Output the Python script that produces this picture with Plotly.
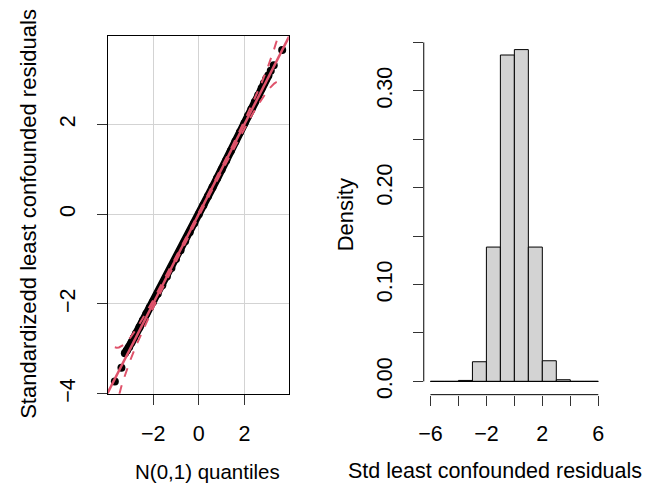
import plotly.graph_objects as go

W, H = 652, 493

# ---------------- data ----------------
# QQ plot: theoretical N(0,1) quantiles vs standardized residuals
qq_theoretical = [-3.68, -3.39, -3.24, -3.15, -3.05, -2.95, -2.85, -2.75, -2.60, -2.45, -2.30,
                  -2.15, -2.00, -1.80, -1.60, -1.40, -1.20, -1.00, -0.80, -0.60, -0.40, -0.20,
                  0.00, 0.20, 0.40, 0.60, 0.80, 1.00, 1.20, 1.40, 1.60, 1.80, 2.00, 2.15, 2.30,
                  2.45, 2.60, 2.75, 2.85, 2.95, 3.05, 3.15, 3.28, 3.65]
qq_sample = [-3.73, -3.42, -3.10, -3.04, -2.96, -2.86, -2.76, -2.66, -2.52, -2.37, -2.22,
             -2.08, -1.95, -1.77, -1.58, -1.39, -1.20, -1.00, -0.80, -0.60, -0.40, -0.20,
             0.00, 0.20, 0.40, 0.60, 0.80, 1.00, 1.20, 1.41, 1.62, 1.83, 2.03, 2.19, 2.34,
             2.50, 2.65, 2.81, 2.92, 3.02, 3.10, 3.20, 3.32, 3.66]

# reference line (intercept, slope)
qq_line_intercept = 0.01
qq_line_slope = 1.0

# pointwise confidence envelope (spans the range of the theoretical quantiles)
env_x = [-3.68, -3.6, -3.5, -3.4, -3.3, -3.2, -3.1, -3.0, -2.75, -2.5,
         -2.25, -2.0, -1.5, -1.0, -0.5, 0.0, 0.5, 1.0, 1.5, 2.0, 2.25, 2.5, 2.75, 3.0,
         3.1, 3.2, 3.3, 3.4, 3.5, 3.65]
env_upper = [-2.965, -2.975, -2.97, -2.948, -2.913, -2.867, -2.811,
             -2.749, -2.568, -2.364, -2.145, -1.916, -1.442, -0.954, -0.46, 0.038, 0.54,
             1.046, 1.558, 2.084, 2.355, 2.636, 2.932, 3.251, 3.389, 3.533, 3.687, 3.852,
             4.03, 4.33]
env_lower = [-4.395, -4.225, -4.03, -3.852, -3.687, -3.533, -3.389,
             -3.251, -2.932, -2.636, -2.355, -2.084, -1.558, -1.046, -0.54, -0.038, 0.46,
             0.954, 1.442, 1.916, 2.145, 2.364, 2.568, 2.749, 2.811, 2.867, 2.913, 2.948,
             2.97, 2.97]

# histogram of standardized residuals (density per unit-width bin)
hist_edges = [-6, -5, -4, -3, -2, -1, 0, 1, 2, 3, 4, 5, 6]
hist_density = [0.0, 0.0, 0.0010, 0.0203, 0.1387, 0.3370, 0.3426, 0.1387, 0.0213, 0.0017, 0.0, 0.0]

# tick labels
qq_xticks = [-2, 0, 2]
qq_xticktext = ["\u22122", "0", "2"]
qq_yticks = [-4, -2, 0, 2]
qq_yticktext = ["\u22124", "\u22122", "0", "2"]
h_xticks = [-6, -4, -2, 0, 2, 4, 6]
h_xticktext = ["\u22126", "", "\u22122", "", "2", "", "6"]
h_yticks = [0.0, 0.05, 0.10, 0.15, 0.20, 0.25, 0.30, 0.35]
h_yticktext = ["0.00", "", "0.10", "", "0.20", "", "0.30", ""]

# ---------------- styling / layout ----------------
FONT = "Liberation Sans, Arial, Helvetica, sans-serif"
FS = 21.5
RED = "#DF536B"

def px_x(p):
    return p / W

def px_y(p):
    return 1 - p / H

L_X = (103.3, 286.0)
L_Y = (37.0, 401.0)
R_X = (422.0, 604.6)
R_Y = (37.0, 402.0)
qq_range_x = [-4.0, 3.94]
qq_range_y = [-4.0, 3.967]
h_range_x = [-6.48, 6.48]
h_range_y = [-0.0137, 0.3563]

fig = go.Figure()

dense_lo, dense_hi = -3.25, 3.10
dx = [x for x in qq_theoretical if dense_lo <= x <= dense_hi]
dy = [y for x, y in zip(qq_theoretical, qq_sample) if dense_lo <= x <= dense_hi]

fig.add_trace(go.Scatter(x=dx, y=dy, mode="lines", line=dict(color="black", width=8),
                         xaxis="x", yaxis="y", hoverinfo="skip", showlegend=False))
fig.add_trace(go.Scatter(x=qq_theoretical, y=qq_sample, mode="markers",
                         marker=dict(color="black", size=8, line=dict(width=0)),
                         xaxis="x", yaxis="y", showlegend=False))
lx = [qq_range_x[0] - 1, qq_range_x[1] + 1]
fig.add_trace(go.Scatter(x=lx, y=[qq_line_intercept + qq_line_slope * v for v in lx],
                         mode="lines", line=dict(color=RED, width=2.5),
                         xaxis="x", yaxis="y", showlegend=False))
for env in (env_upper, env_lower):
    fig.add_trace(go.Scatter(x=env_x, y=env, mode="lines",
                             line=dict(color=RED, width=2, dash="dash"),
                             xaxis="x", yaxis="y", showlegend=False))

# histogram bars
centers = [(a + b) / 2 for a, b in zip(hist_edges[:-1], hist_edges[1:])]
widths = [b - a for a, b in zip(hist_edges[:-1], hist_edges[1:])]
fig.add_trace(go.Bar(x=centers, y=hist_density, width=widths,
                     marker=dict(color="#D3D3D3", line=dict(color="black", width=1)),
                     xaxis="x2", yaxis="y2", showlegend=False))
fig.add_trace(go.Scatter(x=[hist_edges[0], hist_edges[-1]], y=[0, 0], mode="lines",
                         line=dict(color="black", width=1), xaxis="x2", yaxis="y2",
                         showlegend=False, hoverinfo="skip"))

tickfont = dict(family=FONT, size=FS, color="black")
common = dict(ticks="outside", ticklen=10, tickwidth=1, tickcolor="#333",
              tickfont=tickfont, zeroline=False, fixedrange=True)

fig.update_layout(
    width=W, height=H, autosize=False,
    margin=dict(l=0, r=0, t=0, b=0, pad=0),
    paper_bgcolor="white", plot_bgcolor="white",
    showlegend=False, bargap=0,
    xaxis=dict(domain=[px_x(L_X[0]), px_x(L_X[1])], range=qq_range_x,
               tickvals=qq_xticks, ticktext=qq_xticktext,
               showgrid=True, gridcolor="#D3D3D3", gridwidth=1,
               showline=True, mirror=True, linecolor="black", linewidth=1,
               anchor="y", ticklabelstandoff=11, **common),
    yaxis=dict(domain=[px_y(L_Y[1]), px_y(L_Y[0])], range=qq_range_y,
               tickvals=qq_yticks, ticktext=qq_yticktext, tickangle=-90,
               showgrid=True, gridcolor="#D3D3D3", gridwidth=1,
               showline=True, mirror=True, linecolor="black", linewidth=1,
               anchor="x", ticklabelstandoff=13, **common),
    xaxis2=dict(domain=[px_x(R_X[0]), px_x(R_X[1])], range=h_range_x,
                tickvals=h_xticks, ticktext=h_xticktext, showgrid=False,
                showline=False, anchor="y2", ticklabelstandoff=10, **common),
    yaxis2=dict(domain=[px_y(R_Y[1]), px_y(R_Y[0])], range=h_range_y,
                tickvals=h_yticks, ticktext=h_yticktext, tickangle=-90, showgrid=False,
                showline=False, anchor="x2", ticklabelstandoff=12, **common),
)

# axis lines of the histogram (only spanning first..last tick, like R)
def h_px_x(v):
    return R_X[0] + (v - h_range_x[0]) / (h_range_x[1] - h_range_x[0]) * (R_X[1] - R_X[0])

def h_px_y(v):
    return R_Y[1] - (v - h_range_y[0]) / (h_range_y[1] - h_range_y[0]) * (R_Y[1] - R_Y[0])

fig.add_shape(type="line", xref="paper", yref="paper",
              x0=px_x(h_px_x(h_xticks[0])), x1=px_x(h_px_x(h_xticks[-1])),
              y0=px_y(R_Y[1]), y1=px_y(R_Y[1]), line=dict(color="black", width=1))
fig.add_shape(type="line", xref="paper", yref="paper",
              x0=px_x(R_X[0]), x1=px_x(R_X[0]),
              y0=px_y(h_px_y(h_yticks[0])), y1=px_y(h_px_y(h_yticks[-1])),
              line=dict(color="black", width=1))

# axis titles
def tf(size):
    return dict(family=FONT, size=size, color="black")

fig.add_annotation(text="Standardizedd least confounded residuals", x=px_x(23), y=px_y(218),
                   xref="paper", yref="paper", textangle=-90, showarrow=False, font=tf(22),
                   xanchor="center", yanchor="middle")
fig.add_annotation(text="N(0,1) quantiles", x=px_x(204), y=px_y(480),
                   xref="paper", yref="paper", showarrow=False, font=tf(20.5),
                   xanchor="center", yanchor="middle")
fig.add_annotation(text="Density", x=px_x(343), y=px_y(219),
                   xref="paper", yref="paper", textangle=-90, showarrow=False, font=tf(22),
                   xanchor="center", yanchor="middle")
fig.add_annotation(text="Std least confounded residuals", x=px_x(494), y=px_y(480),
                   xref="paper", yref="paper", showarrow=False, font=tf(21.5),
                   xanchor="center", yanchor="middle")

fig.write_html("out.html", config={"displayModeBar": False, "staticPlot": True})
